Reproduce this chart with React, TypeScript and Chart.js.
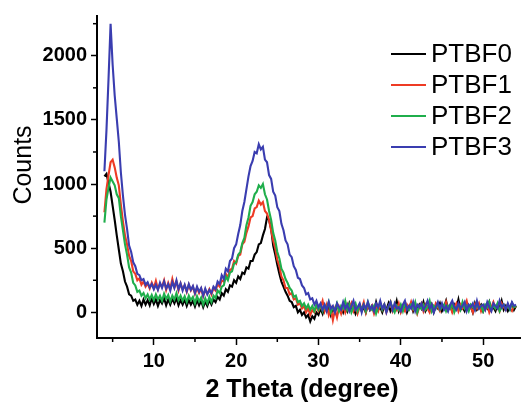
import React, { useEffect, useRef } from "react";
import { Chart, registerables } from "chart.js";

Chart.register(...registerables);

const seriesNames = ["PTBF0", "PTBF1", "PTBF2", "PTBF3"];
const seriesColors = ["#000000", "#ee3b24", "#1fae4b", "#3a3db0"];

// sampling grid of 2θ (degrees)
const xStart = 4;
const xStep = 0.25;

const ptbf0 = [
  1060, 1080, 1010, 940, 830, 720, 600, 490, 380, 320,
  240, 200, 140, 130, 90, 100, 60, 90, 50, 100,
  60, 95, 55, 110, 65, 100, 50, 95, 70, 110,
  55, 100, 60, 105, 70, 110, 55, 95, 60, 100,
  50, 95, 60, 90, 45, 95, 55, 90, 40, 85,
  50, 95, 60, 100, 80, 120, 100, 150, 130, 180,
  160, 210, 200, 250, 230, 280, 260, 310, 300, 350,
  340, 400, 400, 450, 470, 530, 540, 600, 650, 740,
  720, 650, 520, 450, 370, 300, 240, 200, 160, 130,
  90, 80, 40, 50, 0, 20, -20, 0, -40, -20,
  -70, -30, -50, 0, -20,
  30, -10, 50, 10, 40, -20, 30, 0, 60, 20,
  40, 0, 50, 10, 70, 20, 40, -10, 30, 60,
  10, 40, 0, 60, 20, 50, 10, 80, 20, 40,
  0, 50, 20, 70, 10, 40, 30, 90, 10, 50,
  20, 60, 0, 40, 70, 10, 50, 20, 60, 30,
  80, 10, 40, 20, 60, 0, 50, 30, 70, 10,
  40, 90, 20, 50, 10, 60, 30, 100, 20, 40,
  10, 60, 30, 50, 0, 70, 20, 40, 60, 10,
  50, 30, 80, 20, 40, 10, 60, 30, 90, 20,
  50, 10, 40, 70, 20, 50,
];

const ptbf1 = [
  780, 960, 1070, 1170, 1190, 1130, 1050, 990, 840, 710,
  600, 530, 440, 400, 320, 300, 250, 265, 215, 240,
  200, 225, 185, 230, 190, 245, 180, 220, 200, 250,
  175, 230, 185, 260, 195, 240, 170, 225, 180, 210,
  160, 215, 170, 200, 145, 190, 150, 185, 125, 175,
  145, 180, 140, 190, 170, 220, 200, 250, 240, 300,
  270, 330, 340, 400, 380, 440, 450, 530, 550, 620,
  670, 740, 750, 810, 820, 870, 840, 860, 790, 770,
  720, 640, 560, 500, 410, 360, 280, 250, 190, 190,
  140, 150, 100, 110, 60, 70, 30, 50, 0, 30,
  -20, 20, 0, 50, 10,
  40, 90, 10, 60, -20, 30, -60, 20, -40, 40,
  -10, 50, 0, 60, 20, 70, 10, 50, -10, 40,
  30, 80, 0, 60, 20, 50, -10, 40, 10, 70,
  20, 60, 0, 40, 80, 10, 50, 20, 70, 0,
  40, 10, 60, 30, 80, 20, 50, -10, 40, 70,
  10, 60, 30, 0, 50, 20, 70, 40, 10, 60,
  30, 80, 20, 50, 0, 40, 70, 10, 60, 30,
  50, 90, 20, 40, 0, 60, 30, 70, 10, 50,
  20, 60, 0, 40, 80, 30, 50, 10, 70, 40,
  20, 60, 30, 10, 50, 40,
];

const ptbf2 = [
  700, 880, 970, 1050, 1020, 990, 920, 890, 750, 640,
  530, 450, 350, 310, 230, 210, 160, 170, 130, 150,
  110, 140, 100, 135, 95, 140, 100, 130, 90, 145,
  105, 135, 85, 130, 100, 150, 95, 130, 90, 125,
  80, 130, 95, 120, 70, 125, 85, 115, 60, 110,
  70, 120, 80, 130, 110, 170, 150, 200, 210, 280,
  250, 310, 320, 380, 390, 450, 470, 540, 580, 680,
  740, 830, 860, 920, 940, 990, 970, 1000, 920, 880,
  790, 720, 620, 560, 470, 420, 340, 310, 260, 230,
  190, 170, 120, 130, 80, 90, 50, 70, 30, 60,
  20, 50, 10, 60, 20,
  60, 10, 50, 30, 80, 0, 40, 20, 70, 10,
  50, 30, 90, 20, 60, 0, 40, 70, 10, 50,
  30, 60, 10, 80, 40, 20, 50, -10, 40, 70,
  20, 60, 10, 40, 80, 30, 0, 50, 20, 60,
  10, 70, 40, 20, 60, 30, 80, 0, 50, 30,
  60, 20, 40, 90, 10, 50, 30, 70, 20, 40,
  60, 10, 50, 30, 70, 0, 40, 60, 20, 80,
  30, 50, 10, 60, 40, 20, 70, 30, 50, 10,
  60, 40, 80, 20, 50, 30, 70, 10, 40, 60,
  30, 50, 20, 70, 40, 50,
];

const ptbf3 = [
  1100, 1420, 1820, 2250, 1930, 1690, 1510, 1330, 1090, 910,
  760, 650, 520, 470, 390, 360, 300, 290, 250, 260,
  215, 235, 195, 220, 180, 215, 175, 230, 190, 240,
  185, 220, 170, 235, 190, 250, 180, 225, 170, 215,
  165, 220, 175, 205, 150, 200, 160, 190, 130, 185,
  140, 175, 150, 200, 180, 240, 220, 290, 260, 340,
  320, 400, 420, 500, 530, 610, 680, 790, 860, 960,
  1060, 1140, 1180, 1250, 1240, 1310, 1270, 1290, 1190, 1170,
  1070, 1040, 940, 910, 820, 790, 690, 640, 560, 530,
  450, 430, 360, 330, 270, 260, 210, 190, 140, 150,
  100, 110, 60, 90, 40,
  70, 20, 60, 10, 80, 30, 50, 0, 70, 40,
  20, 80, 30, 60, 10, 50, 90, 20, 40, 70,
  0, 60, 30, 80, 20, 50, 10, 70, 40, 90,
  30, 60, 0, 50, 80, 20, 70, 30, 40, 10,
  60, 90, 20, 50, 30, 80, 10, 60, 40, 70,
  20, 50, 90, 30, 60, 0, 40, 80, 30, 70,
  20, 50, 10, 60, 90, 40, 20, 70, 30, 50,
  80, 10, 60, 40, 70, 20, 90, 30, 50, 60,
  20, 80, 40, 10, 70, 50, 30, 90, 40, 60,
  20, 70, 30, 80, 50, 60,
];

const seriesValues = [ptbf0, ptbf1, ptbf2, ptbf3];

const xTickValues = [10, 20, 30, 40, 50];
const xMinorTicks = [5, 15, 25, 35, 45];
const yTickValues = [0, 500, 1000, 1500, 2000];
const yMinorTicks = [250, 750, 1250, 1750, 2250];
const xTitle = "2 Theta (degree)";
const yTitle = "Counts";

const FONT = '"Liberation Sans", Arial, Helvetica, sans-serif';

const overlayPlugin = {
  id: "overlay",
  afterDraw(chart: any) {
    const ctx = chart.ctx as CanvasRenderingContext2D;
    const xs = chart.scales.x;
    const ys = chart.scales.y;
    const area = chart.chartArea;
    ctx.save();
    ctx.strokeStyle = "#000";
    ctx.lineWidth = 1.5;
    for (const v of xMinorTicks) {
      if (v < xs.min || v > xs.max) continue;
      const px = xs.getPixelForValue(v);
      ctx.beginPath();
      ctx.moveTo(px, area.bottom);
      ctx.lineTo(px, area.bottom + 4);
      ctx.stroke();
    }
    for (const v of yMinorTicks) {
      if (v < ys.min || v > ys.max) continue;
      const py = ys.getPixelForValue(v);
      ctx.beginPath();
      ctx.moveTo(area.left, py);
      ctx.lineTo(area.left - 4, py);
      ctx.stroke();
    }
    ctx.fillStyle = "#000";
    ctx.textAlign = "center";
    ctx.textBaseline = "alphabetic";
    ctx.font = `bold 25px ${FONT}`;
    ctx.fillText(xTitle, 302, 397);
    ctx.save();
    ctx.translate(31, 165);
    ctx.rotate(-Math.PI / 2);
    ctx.font = `25px ${FONT}`;
    ctx.fillText(yTitle, 0, 0);
    ctx.restore();

    ctx.font = `26px ${FONT}`;
    ctx.textAlign = "left";
    seriesNames.forEach((name, i) => {
      const base = 62 + i * 31;
      ctx.strokeStyle = seriesColors[i];
      ctx.lineWidth = 2;
      ctx.beginPath();
      ctx.moveTo(391, base - 8);
      ctx.lineTo(426, base - 8);
      ctx.stroke();
      ctx.fillStyle = "#000";
      ctx.fillText(name, 431, base);
    });
    ctx.restore();
  },
};

export default function App() {
  const canvasRef = useRef<HTMLCanvasElement | null>(null);

  useEffect(() => {
    const canvas = canvasRef.current;
    if (!canvas) return;
    const datasets = seriesValues.map((vals, si) => ({
      label: seriesNames[si],
      data: vals.map((v, i) => ({ x: xStart + i * xStep, y: v })),
      borderColor: seriesColors[si],
      backgroundColor: seriesColors[si],
      borderWidth: 2.1,
      pointRadius: 0,
      fill: false,
      tension: 0,
      order: seriesNames.length - 1 - si,
    }));
    const chart = new Chart(canvas, {
      type: "line",
      data: { datasets },
      options: {
        animation: false,
        responsive: false,
        devicePixelRatio: 1,
        layout: { padding: { left: 0, top: 13, right: 0, bottom: 0 } },
        plugins: { legend: { display: false }, tooltip: { enabled: false } },
        scales: {
          x: {
            type: "linear",
            min: 3.1,
            max: 54.6,
            afterFit: (s: any) => {
              s.height = 64;
            },
            afterBuildTicks: (s: any) => {
              s.ticks = xTickValues.map((v) => ({ value: v }));
            },
            border: { display: true, color: "#000", width: 2 },
            grid: {
              drawOnChartArea: false,
              drawTicks: true,
              tickLength: 7,
              tickColor: "#000",
              tickWidth: 1.5,
            },
            ticks: {
              color: "#000",
              padding: 4,
              maxRotation: 0,
              callback: (v: any) => String(v),
              font: { family: FONT, size: 20, weight: "bold" },
            },
          },
          y: {
            type: "linear",
            min: -200,
            max: 2310,
            afterFit: (s: any) => {
              s.width = 97;
            },
            afterBuildTicks: (s: any) => {
              s.ticks = yTickValues.map((v) => ({ value: v }));
            },
            border: { display: true, color: "#000", width: 2 },
            grid: {
              drawOnChartArea: false,
              drawTicks: true,
              tickLength: 6,
              tickColor: "#000",
              tickWidth: 1.5,
            },
            ticks: {
              color: "#000",
              padding: 4,
              callback: (v: any) => String(v),
              font: { family: FONT, size: 20, weight: "bold" },
            },
          },
        },
      },
      plugins: [overlayPlugin],
    } as any);
    return () => chart.destroy();
  }, []);

  return (
    <div
      style={{
        position: "fixed",
        left: 0,
        top: 0,
        width: 521,
        height: 402,
        background: "#ffffff",
      }}
    >
      <canvas
        ref={canvasRef}
        width={521}
        height={402}
        style={{ display: "block", width: 521, height: 402 }}
      />
    </div>
  );
}
